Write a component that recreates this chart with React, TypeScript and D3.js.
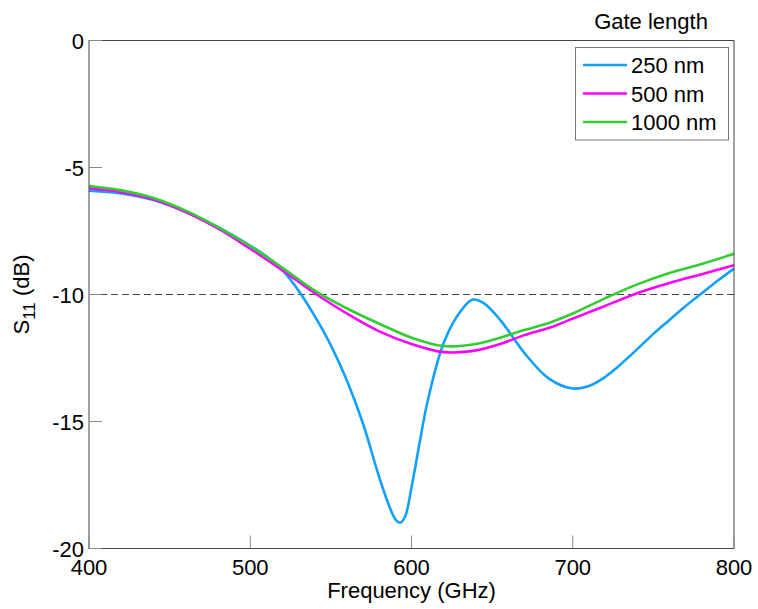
import { useEffect, useRef } from 'react';
import * as d3 from 'd3';

// S11 vs frequency for three gate lengths
const freq250 = [400, 420, 440, 460, 480, 500, 510, 520, 530, 540, 550, 560, 570, 580, 586, 590, 593, 596, 600, 605, 610, 620, 630, 638, 645, 655, 670, 685, 700, 710, 720, 727, 740, 750, 760, 770, 780, 790, 800];
const s11_250 = [-5.91, -6.02, -6.28, -6.75, -7.35, -8.08, -8.5, -9.05, -9.85, -10.85, -12.0, -13.4, -15.1, -17.2, -18.3, -18.85, -18.98, -18.75, -17.6, -15.85, -14.2, -11.9, -10.7, -10.2, -10.35, -11.0, -12.3, -13.3, -13.7, -13.6, -13.25, -12.9, -12.15, -11.55, -11.0, -10.45, -9.95, -9.45, -8.98];

const freqCommon = [400, 420, 440, 460, 480, 500, 520, 540, 560, 580, 600, 620, 640, 655, 670, 686, 700, 720, 740, 760, 780, 800];
const s11_500 = [-5.82, -5.97, -6.26, -6.75, -7.4, -8.2, -9.05, -9.95, -10.75, -11.45, -11.95, -12.27, -12.2, -11.95, -11.6, -11.3, -10.95, -10.45, -9.95, -9.55, -9.2, -8.85];
const s11_1000 = [-5.73, -5.9, -6.2, -6.7, -7.35, -8.1, -8.95, -9.85, -10.55, -11.15, -11.7, -12.03, -11.95, -11.7, -11.4, -11.1, -10.75, -10.15, -9.6, -9.15, -8.8, -8.4];

const seriesNames = ['250 nm', '500 nm', '1000 nm'];
const seriesColors = ['#12a0ff', '#ff00ff', '#33cc33'];

const xTicks = [400, 500, 600, 700, 800];
const yTicks = [-20, -15, -10, -5, 0];

const App = () => {
  const svgRef = useRef<SVGSVGElement>(null);

  useEffect(() => {
    const svg = d3.select(svgRef.current);
    svg.selectAll('*').remove();

    const left = 89, right = 734, top = 40.5, bottom = 548.5;
    const font = 'Arial, "Liberation Sans", sans-serif';

    const x = d3.scaleLinear().domain([400, 800]).range([left, right]);
    const y = d3.scaleLinear().domain([-20, 0]).range([bottom, top]);

    const series = [
      { name: seriesNames[0], color: seriesColors[0], f: freq250, v: s11_250 },
      { name: seriesNames[1], color: seriesColors[1], f: freqCommon, v: s11_500 },
      { name: seriesNames[2], color: seriesColors[2], f: freqCommon, v: s11_1000 },
    ];

    // dashed -10 dB reference
    svg.append('line')
      .attr('x1', left).attr('x2', right)
      .attr('y1', y(-10)).attr('y2', y(-10))
      .attr('stroke', '#444').attr('stroke-width', 1)
      .attr('stroke-dasharray', '7,4');

    const line = d3.line().curve(d3.curveCatmullRom.alpha(0.5));

    series.forEach(s => {
      const pts: [number, number][] = s.f.map((f, i) => [x(f), y(s.v[i])]);
      svg.append('path')
        .attr('d', line(pts))
        .attr('fill', 'none')
        .attr('stroke', s.color)
        .attr('stroke-width', 2.6);
    });

    // box
    svg.append('rect')
      .attr('x', left).attr('y', top)
      .attr('width', right - left).attr('height', bottom - top)
      .attr('fill', 'none').attr('stroke', '#444').attr('stroke-width', 1);

    // ticks (inward)
    xTicks.forEach(t => {
      svg.append('line')
        .attr('x1', x(t)).attr('x2', x(t))
        .attr('y1', bottom).attr('y2', bottom - 13)
        .attr('stroke', '#888');
      svg.append('text')
        .attr('x', x(t)).attr('y', bottom + 26)
        .attr('text-anchor', 'middle')
        .attr('font-family', font).attr('font-size', 22)
        .text(t);
    });
    yTicks.forEach(t => {
      svg.append('line')
        .attr('x1', left).attr('x2', left + 13)
        .attr('y1', y(t)).attr('y2', y(t))
        .attr('stroke', '#888');
      svg.append('text')
        .attr('x', left - 5).attr('y', y(t) + 8)
        .attr('text-anchor', 'end')
        .attr('font-family', font).attr('font-size', 22)
        .text(t);
    });

    // axis labels
    svg.append('text')
      .attr('x', (left + right) / 2).attr('y', 598)
      .attr('text-anchor', 'middle')
      .attr('font-family', font).attr('font-size', 22)
      .text('Frequency (GHz)');

    const yl = svg.append('text')
      .attr('transform', `translate(29,${(top + bottom) / 2}) rotate(-90)`)
      .attr('text-anchor', 'middle')
      .attr('font-family', font).attr('font-size', 22);
    yl.append('tspan').text('S');
    yl.append('tspan').attr('font-size', 17).attr('dy', 6).text('11');
    yl.append('tspan').attr('dy', -6).text(' (dB)');

    // legend
    svg.append('text')
      .attr('x', 651).attr('y', 29)
      .attr('text-anchor', 'middle')
      .attr('font-family', font).attr('font-size', 22)
      .text('Gate length');

    svg.append('rect')
      .attr('x', 575.5).attr('y', 47.5)
      .attr('width', 153).attr('height', 92.5)
      .attr('fill', '#fff').attr('stroke', '#777').attr('stroke-width', 1);

    series.forEach((s, i) => {
      const ly = 65 + i * 28.5;
      svg.append('line')
        .attr('x1', 583).attr('x2', 627)
        .attr('y1', ly).attr('y2', ly)
        .attr('stroke', s.color).attr('stroke-width', 2.6);
      svg.append('text')
        .attr('x', 631).attr('y', ly + 8)
        .attr('font-family', font).attr('font-size', 22)
        .text(s.name);
    });
  }, []);

  return (
    <svg ref={svgRef} width={758} height={609}
      style={{ position: 'absolute', left: 0, top: 0, background: '#fff' }} />
  );
};

export default App;
